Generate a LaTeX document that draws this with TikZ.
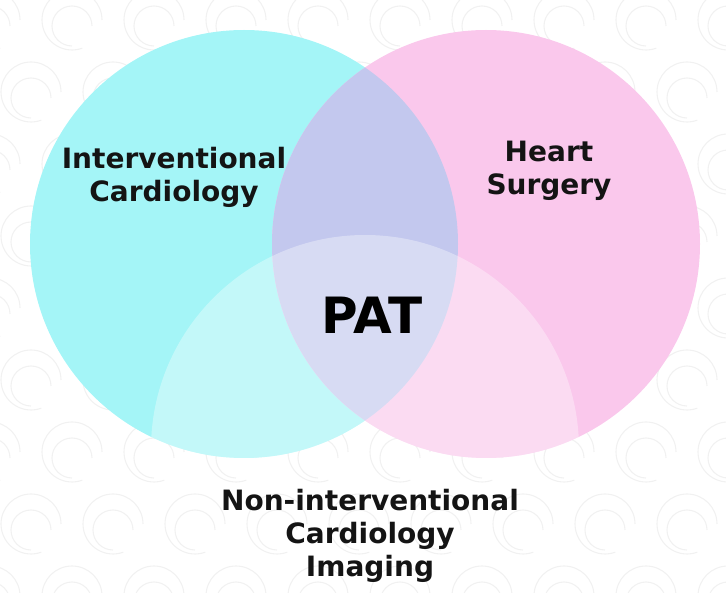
\documentclass[tikz,border=0pt]{standalone}
\usepackage{fontspec}
\setmainfont{DejaVu Sans}
\usetikzlibrary{positioning}
\definecolor{cardcyan}{HTML}{A4F5F7}
\definecolor{surgpink}{HTML}{FAC8EC}
\definecolor{bothlav}{HTML}{C3C8EE}
\definecolor{swirlgray}{HTML}{F1F1F1}
\tikzset{
area/.style={font=\bfseries\fontsize{28}{33}\selectfont,align=center,text=black!92,inner sep=0pt},
patlabel/.style={font=\bfseries\fontsize{50}{50}\selectfont,text=black,inner sep=0pt},
swirl/.style={draw=swirlgray,line width=1.1pt},
imagingveil/.style={fill=white,fill opacity=0.35}
}

\begin{document}
\begin{tikzpicture}[x=1pt,y=-1pt]
\useasboundingbox (0,0) rectangle (726,593);
% faint swirls in the back
\foreach \r in {0,...,8}{
\foreach \c in {0,...,9}{
\pgfmathsetmacro{\sx}{\c*82+mod(\r,2)*41-10}
\pgfmathsetmacro{\sy}{\r*72+20}
\draw[swirl] (\sx,\sy) ++(30,0) arc[start angle=0,end angle=-290,radius=30];
\draw[swirl] (\sx,\sy) ++(20,6) arc[start angle=0,end angle=-270,radius=20];
}}
% the three fields
\fill[cardcyan] (244,244) circle[radius=214];
\fill[surgpink] (486,244) circle[radius=214];
\begin{scope}
\clip (244,244) circle[radius=214];
\fill[bothlav] (486,244) circle[radius=214];
\end{scope}
\begin{scope}
\clip (244,244) circle[radius=214] (486,244) circle[radius=214];
\fill[imagingveil] (365,449) circle[radius=214];
\end{scope}
% labels
\node[area] (interv) at (174,177) {Interventional\\Cardiology};
\node[area] (surgery) at (549,171) {Heart\\Surgery};
\node[patlabel] (pat) at (372,315) {PAT};
\node[area] (imaging) at (370,536) {Non-interventional\\Cardiology\\Imaging};
\end{tikzpicture}
\end{document}
